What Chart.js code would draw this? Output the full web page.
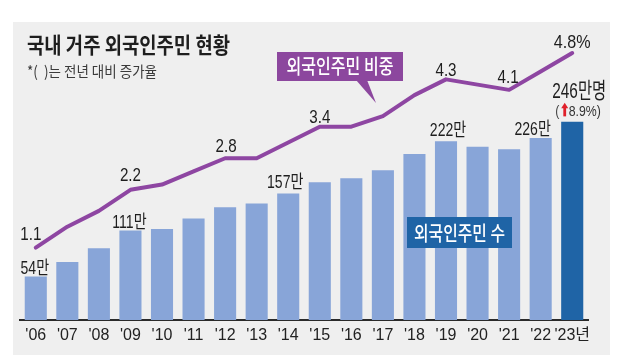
<!DOCTYPE html>
<html><head><meta charset="utf-8">
<script src="https://cdn.jsdelivr.net/npm/chart.js@4/dist/chart.umd.min.js"></script>
<style>html,body{margin:0;padding:0;background:#fff}canvas{display:block}</style>
</head><body>
<canvas id="c" width="627" height="355"></canvas>
<script>
// ---- data ----
const categories = ["'06","'07","'08","'09","'10","'11","'12","'13","'14","'15","'16","'17","'18","'19","'20","'21","'22","'23년"];
const residents = [54,72,89,111,113,126,140,144.5,157,171,176,186,206,222,215,212,226,246]; // 만명
const shareRatio = [1.1,1.5,1.8,2.2,2.3,2.55,2.8,2.8,3.1,3.4,3.4,3.6,4.0,4.3,4.2,4.1,4.45,4.8]; // %
const residentLabelIdx = [0,3,8,13,16,17];
const shareLabelIdx = [0,3,6,9,13,15,17];
const growthRate = "8.9%";
const titleText = "국내 거주 외국인주민 현황";
const subtitleText = "*(  )는 전년 대비 증가율";
const lineLegend = "외국인주민 비중";
const barLegend = "외국인주민 수";

// ---- style ----
const NUM = "'Liberation Sans','Noto Sans CJK KR',sans-serif";
const KR = "'Noto Sans CJK KR','Liberation Sans',sans-serif";
const barColors = residents.map((v,i)=> i===residents.length-1 ? '#1f64a6' : '#88a5d8');

function txt(ctx, s, x, y, font, color, align, baseline, sx){
  ctx.save(); ctx.translate(x,y); ctx.scale(sx,1);
  ctx.font=font; ctx.fillStyle=color; ctx.textAlign=align; ctx.textBaseline=baseline;
  ctx.fillText(s,0,0); ctx.restore();
}
function fitTxt(ctx, s, x, y, font, color, align, w){
  ctx.save(); ctx.font=font; const m=ctx.measureText(s).width; ctx.restore();
  txt(ctx, s, x, y, font, color, align, 'middle', w/m);
}

const barLabelOffset = {0:[-1,-3],3:[-1,-3],8:[-3,-6],13:[2,-5],16:[-8,-3],17:[7,-24]};
const lineLabelOffset = {0:[-5,-8],3:[0,-9],6:[1,-6],9:[0,-4],13:[0,-3.5],15:[-1,-7],17:[0,-5]};

const deco = {
  id:'deco',
  beforeDraw(chart){
    const ctx=chart.ctx;
    ctx.save();
    ctx.fillStyle='#fff'; ctx.fillRect(0,0,chart.width,chart.height);
    ctx.fillStyle='#efefef'; ctx.fillRect(13,22,597,333);
    ctx.restore();
  },
  afterDraw(chart){
    const ctx=chart.ctx;
    // title
    fitTxt(ctx,titleText,27,45,"bold 22px "+KR,'#1e1e1e','left',203);
    fitTxt(ctx,subtitleText,27,71.5,"15px "+KR,'#3a3a3a','left',130);
    // bar labels
    const bm=chart.getDatasetMeta(1);
    residentLabelIdx.forEach(i=>{
      const el=bm.data[i]; const o=barLabelOffset[i]||[0,-3];
      const last = i===residents.length-1;
      const s = residents[i]+(last?'만명':'만');
      if(last){
        txt(ctx,s,el.x+o[0],el.y+o[1],"22px "+NUM,'#1e1e1e','center','alphabetic',0.7);
        // growth sub-label: ( [red arrow] 8.9%)
        const f="15px "+NUM; const sx=0.82; const yb=el.y-6;
        txt(ctx,"(",el.x-17,yb,f,'#444','left','alphabetic',sx);
        const ax=el.x-7.5, top=yb-13;
        ctx.save(); ctx.fillStyle='#e0202a';
        ctx.beginPath(); ctx.moveTo(ax,top); ctx.lineTo(ax+3.5,top+5.5); ctx.lineTo(ax-3.5,top+5.5); ctx.closePath(); ctx.fill();
        ctx.fillRect(ax-1.4,top+5,2.8,8.5);
        ctx.restore();
        txt(ctx,growthRate+")",el.x-3.5,yb,f,'#333','left','alphabetic',sx);
      } else {
        txt(ctx,s,el.x+o[0],el.y+o[1],"18px "+NUM,'#1e1e1e','center','alphabetic',0.78);
      }
    });
    // line labels
    const lm=chart.getDatasetMeta(0);
    shareLabelIdx.forEach(i=>{
      const el=lm.data[i]; const o=lineLabelOffset[i]||[0,-6];
      const last=i===shareRatio.length-1;
      const s=shareRatio[i].toFixed(1)+(last?'%':'');
      txt(ctx,s,el.x+o[0],el.y+o[1],"19px "+NUM,'#1e1e1e','center','alphabetic',last?0.85:0.8);
    });
    // legend boxes
    ctx.save();
    ctx.fillStyle='#8c479e';
    ctx.fillRect(277,52,126,29);
    ctx.beginPath(); ctx.moveTo(356,80); ctx.lineTo(367,80); ctx.lineTo(376,103); ctx.closePath(); ctx.fill();
    ctx.fillStyle='#1f64a6';
    ctx.fillRect(407,217,105,31);
    ctx.restore();
    fitTxt(ctx,lineLegend,340,66.5,"500 20px "+KR,'#fff','center',107);
    fitTxt(ctx,barLegend,459.5,233,"500 20px "+KR,'#fff','center',91);
  }
};

new Chart(document.getElementById('c'),{
  data:{
    labels:categories,
    datasets:[
      {type:'line',label:lineLegend,data:shareRatio,yAxisID:'y2',borderColor:'#8e46a2',borderWidth:4,
       pointRadius:0,tension:0,fill:false,order:0,borderJoinStyle:'round',borderCapStyle:'round'},
      {type:'bar',label:barLegend,data:residents,yAxisID:'y',backgroundColor:barColors,
       categoryPercentage:1,barPercentage:0.70,order:1}
    ]
  },
  options:{
    responsive:false,animation:false,devicePixelRatio:1,
    layout:{padding:{left:20,right:39,top:22,bottom:0}},
    plugins:{legend:{display:false},tooltip:{enabled:false}},
    scales:{
      x:{grid:{display:false,drawTicks:false},
         border:{display:true,color:'#2a2a2a',width:2},
         ticks:{color:'#222',font:{size:16,family:NUM},padding:6,maxRotation:0,autoSkip:false},
         afterFit:(s)=>{s.height=35;}},
      y:{display:false,min:0,max:370},
      y2:{display:false,min:-0.274,max:5.39}
    }
  },
  plugins:[deco]
});
</script>
</body></html>
